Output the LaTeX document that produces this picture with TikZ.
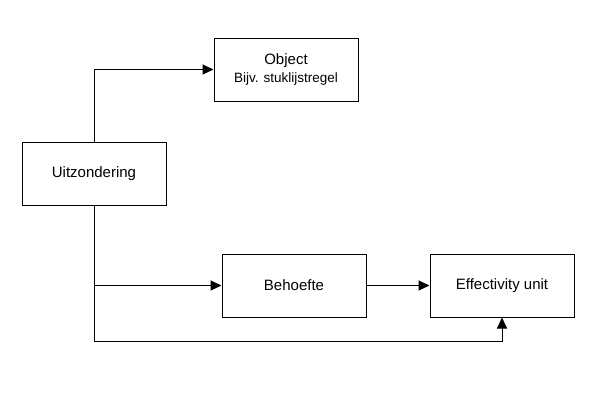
\documentclass[tikz,border=0pt]{standalone}
\usepackage{fontspec}
\setmainfont{Liberation Sans}
\usetikzlibrary{arrows.meta}
\begin{document}
\begin{tikzpicture}[x=1pt,y=-1pt,
  box/.style={draw,line width=1pt,minimum width=144pt,minimum height=63pt,inner sep=0pt,font=\fontsize{15}{18}\selectfont,align=center},
  conn/.style={line width=1pt,-{Triangle[length=11pt,width=10pt]}},
  plain/.style={line width=1pt}]
\useasboundingbox (0,0) rectangle (598,400);
\node[box] (obj) at (286,69.5) {Object\\[0pt]{\fontsize{13.5}{16}\selectfont Bijv. stuklijstregel}};
\node[box] (uit) at (94,173.5) {Uitzondering};
\node[box] (beh) at (294,285.5) {Behoefte};
\node[box] (eff) at (502,285.5) {Effectivity unit};
\coordinate (c1) at (94,341);
\draw[conn] (uit.north) |- (obj.west);
\draw[plain] (uit.south) -- (c1);
\draw[conn] (c1) -| (eff.south);
\draw[conn] (uit.south |- beh.west) -- (beh.west);
\draw[conn] (beh.east) -- (eff.west);
\end{tikzpicture}
\end{document}
